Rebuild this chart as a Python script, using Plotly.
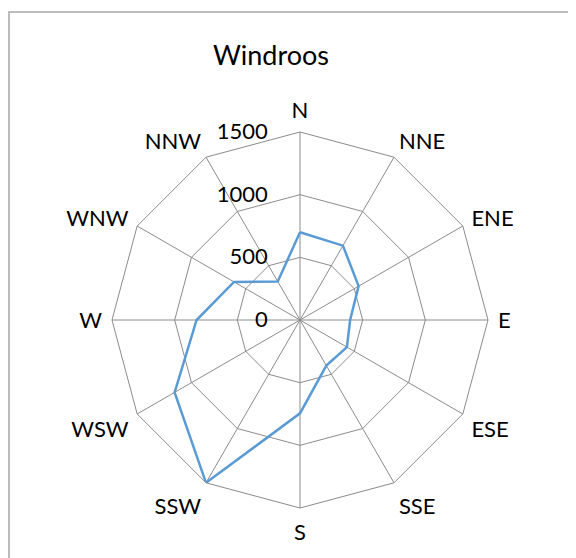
import plotly.graph_objects as go

directions = ["N", "NNE", "ENE", "E", "ESE", "SSE", "S", "SSW", "WSW", "W", "WNW", "NNW"]
values = [700, 685, 540, 400, 432, 420, 745, 1500, 1155, 825, 608, 355]
radial_ticks = [0, 500, 1000, 1500]

W, H = 576, 558
OFF = 8  # page body margin
cx, cy, R = 300 - OFF, 320 - OFF, 188

fig = go.Figure()
fig.add_trace(go.Scatterpolar(
    r=values + values[:1],
    theta=directions + directions[:1],
    mode="lines",
    line=dict(color="#5B9BD5", width=2.5),
    showlegend=False,
    hoverinfo="skip",
))

grid = "#8C8C8C"
fig.update_layout(
    width=W, height=H,
    margin=dict(l=0, r=0, t=0, b=0),
    paper_bgcolor="white",
    font=dict(family="Lato", color="black"),
    title=dict(text="Windroos", x=(271 - OFF) / W, xanchor="center",
               y=1 - (56 - OFF) / H, yanchor="middle",
               font=dict(family="Lato", size=27, color="black")),
    polar=dict(
        domain=dict(x=[(cx - R) / W, (cx + R) / W],
                    y=[(H - cy - R) / H, (H - cy + R) / H]),
        bgcolor="white",
        gridshape="linear",
        angularaxis=dict(
            type="category",
            categoryarray=directions,
            direction="clockwise",
            rotation=90,
            showline=True, linecolor=grid, linewidth=1,
            gridcolor=grid, gridwidth=1,
            ticks="outside", ticklen=5, tickcolor="rgba(0,0,0,0)",
            tickfont=dict(family="Lato", size=22, color="black"),
        ),
        radialaxis=dict(
            range=[0, 1500],
            tickvals=radial_ticks,
            ticktext=[str(v) for v in radial_ticks],
            angle=90,
            tickangle=90,
            side="counterclockwise",
            showline=False,
            ticks="outside", ticklen=24, tickcolor="rgba(0,0,0,0)",
            gridcolor=grid, gridwidth=1,
            tickfont=dict(family="Lato", size=22, color="black"),
        ),
    ),
    shapes=[dict(type="rect", xref="paper", yref="paper",
                 x0=1 / W, x1=1.05, y0=-0.05, y1=1 - (12 - OFF) / H,
                 line=dict(color="#A6A6A6", width=1.5), fillcolor="rgba(0,0,0,0)",
                 layer="below")],
)

fig.write_html("out.html")
